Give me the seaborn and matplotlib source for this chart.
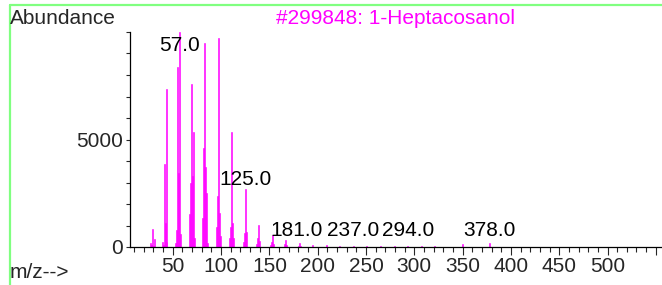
import seaborn as sns
import matplotlib.pyplot as plt
from matplotlib.lines import Line2D
from matplotlib.ticker import MultipleLocator, FixedLocator
import numpy as np
import pandas as pd

# spectrum (m/z, abundance)
mz = [27, 28, 29, 30, 31, 39, 40, 41, 42, 43, 44,
      53, 54, 55, 56, 57, 58,
      67, 68, 69, 70, 71, 72,
      81, 82, 83, 84, 85, 86,
      95, 96, 97, 98, 99,
      109, 110, 111, 112, 113,
      123, 124, 125, 126,
      137, 138, 139, 140,
      151, 152, 153, 154,
      166, 167, 168,
      180, 181, 182,
      195, 209, 223, 237, 251, 265, 279, 293, 307, 321, 335, 350, 378]
abundance = [200, 80, 830, 60, 370, 230, 80, 3860, 1100, 7350, 250,
             200, 800, 8370, 3460, 9990, 600,
             1530, 2970, 7600, 3300, 5350, 400,
             1350, 4620, 9500, 3700, 2500, 200,
             950, 2370, 9700, 1580, 500,
             400, 950, 5350, 1100, 400,
             250, 650, 2700, 700,
             150, 400, 1020, 300,
             100, 250, 560, 150,
             120, 330, 80,
             60, 170, 40,
             90, 70, 60, 50, 45, 40, 35, 40, 30, 25, 20, 150, 180]

peak_labels = [57.0, 125.0, 181.0, 237.0, 294.0, 378.0]
title = "#299848: 1-Heptacosanol"

df = pd.DataFrame({"mz": mz, "abundance": abundance})

sns.set_style("ticks")
plt.rcParams["font.family"] = ["Liberation Sans", "DejaVu Sans"]
plt.rcParams["font.size"] = 15

fig = plt.figure(figsize=(6.62, 2.85), dpi=100)
W, H = 662, 285
ax = fig.add_axes([130 / W, 38 / H, (W - 130) / W, (253 - 38) / H])

sns.histplot(data=df, x="mz", weights="abundance", discrete=True,
             color="#ff00ff", alpha=1, linewidth=0.4, edgecolor="#ff00ff", ax=ax)

ax.set_xlim(5.7, 556.4)
ax.set_ylim(0, 10000)
ax.set_xlabel("")
ax.set_ylabel("")

ax.xaxis.set_major_locator(FixedLocator(list(range(50, 551, 50))))
ax.set_xticklabels([str(v) for v in range(50, 501, 50)] + [""])
ax.xaxis.set_minor_locator(MultipleLocator(10))
ax.yaxis.set_major_locator(FixedLocator([0, 5000]))
ax.yaxis.set_minor_locator(MultipleLocator(1000))
ax.tick_params(axis="x", which="major", length=6, width=0.8, pad=1, labelsize=15)
ax.tick_params(axis="x", which="minor", length=3.5, width=0.8)
ax.tick_params(axis="y", which="both", length=3, width=0.8, pad=2, labelsize=15)

for s in ["top", "right"]:
    ax.spines[s].set_visible(False)
for s in ["left", "bottom"]:
    ax.spines[s].set_linewidth(0.9)
    ax.spines[s].set_color("black")

# peak labels (181 nudged slightly left, as in the original)
nudge = {181.0: -3}
for p in peak_labels:
    h = df.loc[df["mz"] == int(p), "abundance"]
    h = h.iloc[0] if len(h) else 0
    y = min(max(h, 320), 8950)
    ax.text(p + nudge.get(p, 0), y, f"{p:.1f}", ha="center", va="bottom",
            fontsize=15, color="black")

fig.text(10 / W, 1 - 9 / H, "Abundance", ha="left", va="top", fontsize=15)
fig.text(395 / W, 1 - 9 / H, title, ha="center", va="top", fontsize=15,
         color="#ff00ff")
fig.text(10 / W, 3 / H, "m/z-->", ha="left", va="bottom", fontsize=15)

# green frame of the report page
fig.add_artist(Line2D([9.5 / W, 1], [1 - 4.5 / H, 1 - 4.5 / H],
                      color="#80ff80", lw=1.6, transform=fig.transFigure))
fig.add_artist(Line2D([9.5 / W, 9.5 / W], [0, 1 - 4.5 / H],
                      color="#80ff80", lw=1.6, transform=fig.transFigure))

fig.savefig("out.png", dpi=100)
